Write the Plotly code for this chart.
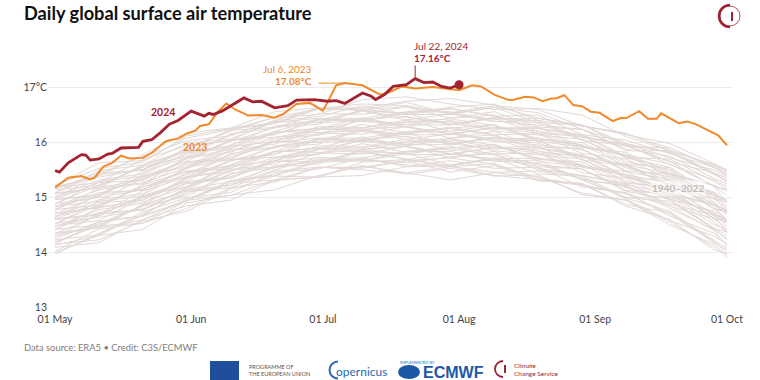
import plotly.graph_objects as go

# ---------------- data ----------------
YEAR = "2024"  # common plotting year for all seasons

GRAY_DATES = ["05-01", "05-11", "05-21", "05-31", "06-10", "06-20", "06-30", "07-10", "07-20",
              "07-30", "08-09", "08-19", "08-29", "09-08", "09-18", "09-28", "10-01"]

# 1940-2022 individual years (estimated from the spaghetti band)
GRAY_1940_2022 = [
    [14.00, 14.31, 14.42, 14.90, 15.04, 15.14, 15.40, 15.57, 15.45, 15.32, 15.45, 15.38, 15.08, 14.95, 14.55, 14.10, 13.92],
    [14.15, 14.23, 14.57, 14.75, 15.15, 15.39, 15.37, 15.40, 15.56, 15.57, 15.40, 15.33, 15.25, 14.84, 14.60, 14.05, 13.98],
    [13.97, 14.35, 14.67, 14.95, 15.04, 15.32, 15.55, 15.50, 15.45, 15.56, 15.62, 15.32, 15.22, 15.07, 14.70, 14.18, 14.05],
    [14.19, 14.49, 14.53, 14.94, 15.26, 15.31, 15.37, 15.64, 15.69, 15.56, 15.46, 15.48, 15.36, 14.97, 14.58, 14.30, 14.15],
    [14.13, 14.31, 14.70, 15.10, 15.18, 15.48, 15.55, 15.55, 15.67, 15.72, 15.60, 15.36, 15.23, 15.07, 14.85, 14.40, 14.12],
    [14.34, 14.45, 14.59, 14.97, 15.29, 15.54, 15.69, 15.69, 15.59, 15.59, 15.72, 15.62, 15.32, 14.99, 14.75, 14.22, 14.08],
    [14.25, 14.56, 14.67, 15.15, 15.29, 15.39, 15.65, 15.82, 15.70, 15.57, 15.70, 15.63, 15.33, 15.20, 14.80, 14.42, 14.25],
    [14.18, 14.53, 14.85, 15.13, 15.22, 15.50, 15.73, 15.68, 15.63, 15.74, 15.80, 15.50, 15.40, 15.25, 14.96, 14.45, 14.30],
    [14.42, 14.50, 14.84, 15.02, 15.42, 15.66, 15.64, 15.67, 15.83, 15.84, 15.67, 15.60, 15.52, 15.11, 14.97, 14.44, 14.37],
    [14.30, 14.48, 14.87, 15.27, 15.35, 15.65, 15.72, 15.72, 15.84, 15.89, 15.77, 15.53, 15.40, 15.24, 15.07, 14.67, 14.37],
    [14.43, 14.73, 14.77, 15.18, 15.50, 15.55, 15.61, 15.88, 15.93, 15.80, 15.70, 15.72, 15.60, 15.21, 14.88, 14.68, 14.58],
    [14.53, 14.64, 14.78, 15.16, 15.48, 15.73, 15.88, 15.88, 15.78, 15.78, 15.91, 15.81, 15.51, 15.18, 15.01, 14.51, 14.41],
    [14.34, 14.69, 15.01, 15.29, 15.38, 15.66, 15.89, 15.84, 15.79, 15.90, 15.96, 15.66, 15.56, 15.41, 15.12, 14.61, 14.59],
    [14.47, 14.78, 14.89, 15.37, 15.51, 15.61, 15.87, 16.04, 15.92, 15.79, 15.92, 15.85, 15.55, 15.42, 15.02, 14.72, 14.57],
    [14.60, 14.68, 15.02, 15.20, 15.60, 15.84, 15.82, 15.85, 16.01, 16.02, 15.85, 15.78, 15.70, 15.29, 15.15, 14.62, 14.55],
    [14.48, 14.66, 15.05, 15.45, 15.53, 15.83, 15.90, 15.90, 16.02, 16.07, 15.95, 15.71, 15.58, 15.42, 15.25, 14.85, 14.55],
    [14.61, 14.91, 14.95, 15.36, 15.68, 15.73, 15.79, 16.06, 16.11, 15.98, 15.88, 15.90, 15.78, 15.39, 15.06, 14.86, 14.76],
    [14.71, 14.82, 14.96, 15.34, 15.66, 15.91, 16.06, 16.06, 15.96, 15.96, 16.09, 15.99, 15.69, 15.36, 15.19, 14.69, 14.59],
    [14.52, 14.87, 15.19, 15.47, 15.56, 15.84, 16.07, 16.02, 15.97, 16.08, 16.14, 15.84, 15.74, 15.59, 15.30, 14.79, 14.77],
    [14.65, 14.96, 15.07, 15.55, 15.69, 15.79, 16.05, 16.22, 16.10, 15.97, 16.10, 16.03, 15.73, 15.60, 15.20, 14.90, 14.75],
    [14.78, 14.86, 15.20, 15.38, 15.78, 16.02, 16.00, 16.03, 16.19, 16.20, 16.03, 15.96, 15.88, 15.47, 15.33, 14.80, 14.73],
    [14.66, 14.84, 15.23, 15.63, 15.71, 16.01, 16.08, 16.08, 16.20, 16.25, 16.13, 15.89, 15.76, 15.60, 15.43, 15.03, 14.73],
    [14.79, 15.09, 15.13, 15.54, 15.86, 15.91, 15.97, 16.24, 16.29, 16.16, 16.06, 16.08, 15.96, 15.57, 15.24, 15.04, 14.94],
    [14.89, 15.00, 15.14, 15.52, 15.84, 16.09, 16.24, 16.24, 16.14, 16.14, 16.27, 16.17, 15.87, 15.54, 15.37, 14.87, 14.77],
    [14.70, 15.05, 15.37, 15.65, 15.74, 16.02, 16.25, 16.20, 16.15, 16.26, 16.32, 16.02, 15.92, 15.77, 15.48, 14.97, 14.95],
    [14.83, 15.14, 15.25, 15.73, 15.87, 15.97, 16.23, 16.40, 16.28, 16.15, 16.28, 16.21, 15.91, 15.78, 15.38, 15.08, 14.93],
    [14.96, 15.04, 15.38, 15.56, 15.96, 16.20, 16.18, 16.21, 16.37, 16.38, 16.21, 16.14, 16.06, 15.65, 15.51, 14.98, 14.91],
    [14.84, 15.02, 15.41, 15.81, 15.89, 16.19, 16.26, 16.26, 16.38, 16.43, 16.31, 16.07, 15.94, 15.78, 15.61, 15.21, 14.91],
    [14.97, 15.27, 15.31, 15.72, 16.04, 16.09, 16.15, 16.42, 16.47, 16.34, 16.24, 16.26, 16.14, 15.75, 15.42, 15.22, 15.12],
    [15.07, 15.18, 15.32, 15.70, 16.02, 16.27, 16.42, 16.42, 16.32, 16.32, 16.45, 16.35, 16.05, 15.72, 15.55, 15.05, 14.95],
    [14.88, 15.23, 15.55, 15.83, 15.92, 16.20, 16.43, 16.38, 16.33, 16.44, 16.50, 16.20, 16.10, 15.95, 15.66, 15.20, 15.15],
    [15.01, 15.32, 15.43, 15.91, 16.05, 16.15, 16.41, 16.58, 16.46, 16.33, 16.46, 16.39, 16.09, 15.96, 15.60, 15.32, 15.20],
    [15.14, 15.22, 15.56, 15.74, 16.14, 16.38, 16.36, 16.39, 16.55, 16.56, 16.39, 16.32, 16.24, 15.88, 15.75, 15.35, 15.25],
    [15.02, 15.20, 15.59, 15.99, 16.07, 16.37, 16.44, 16.44, 16.56, 16.61, 16.49, 16.25, 16.12, 15.96, 15.82, 15.45, 15.28],
    [15.15, 15.45, 15.49, 15.90, 16.22, 16.27, 16.33, 16.60, 16.65, 16.52, 16.42, 16.44, 16.32, 15.98, 15.72, 15.50, 15.38],
    [15.20, 15.37, 15.51, 15.89, 16.21, 16.46, 16.61, 16.61, 16.51, 16.51, 16.64, 16.54, 16.24, 15.98, 15.82, 15.42, 15.30],
    [15.08, 15.43, 15.75, 16.03, 16.12, 16.40, 16.63, 16.58, 16.53, 16.64, 16.70, 16.40, 16.30, 16.15, 15.90, 15.55, 15.45],
    [15.22, 15.53, 15.64, 16.12, 16.26, 16.36, 16.62, 16.70, 16.67, 16.54, 16.67, 16.60, 16.30, 16.17, 15.85, 15.58, 15.48],
    [15.18, 15.39, 15.78, 16.18, 16.26, 16.56, 16.63, 16.63, 16.75, 16.80, 16.68, 16.44, 16.31, 16.15, 15.98, 15.62, 15.50],
    [15.22, 15.63, 15.67, 16.08, 16.24, 16.45, 16.51, 16.78, 16.83, 16.70, 16.60, 16.62, 16.50, 16.11, 15.85, 15.60, 15.50],
    [14.09, 14.18, 14.60, 14.85, 14.95, 15.31, 15.38, 15.58, 15.42, 15.53, 15.39, 15.41, 15.05, 14.95, 14.50, 14.15, 13.95],
    [14.02, 14.43, 14.53, 14.80, 15.18, 15.28, 15.55, 15.53, 15.67, 15.46, 15.58, 15.30, 15.26, 14.87, 14.72, 14.20, 14.00],
    [14.23, 14.32, 14.74, 14.99, 15.09, 15.45, 15.52, 15.72, 15.56, 15.67, 15.53, 15.55, 15.19, 15.09, 14.66, 14.35, 14.15],
    [14.15, 14.56, 14.66, 14.93, 15.31, 15.41, 15.68, 15.66, 15.80, 15.59, 15.71, 15.43, 15.39, 15.00, 14.93, 14.43, 14.23],
    [14.36, 14.45, 14.87, 15.12, 15.22, 15.58, 15.65, 15.85, 15.69, 15.80, 15.66, 15.68, 15.32, 15.22, 14.84, 14.62, 14.44],
    [14.28, 14.69, 14.79, 15.06, 15.44, 15.54, 15.81, 15.79, 15.93, 15.72, 15.84, 15.56, 15.52, 15.13, 15.06, 14.56, 14.36],
    [14.49, 14.58, 15.00, 15.25, 15.35, 15.71, 15.78, 15.98, 15.82, 15.93, 15.79, 15.81, 15.45, 15.35, 14.97, 14.75, 14.57],
    [14.41, 14.82, 14.92, 15.19, 15.57, 15.67, 15.94, 15.92, 16.06, 15.85, 15.97, 15.69, 15.65, 15.26, 15.19, 14.69, 14.49],
    [14.61, 14.70, 15.12, 15.37, 15.47, 15.83, 15.90, 16.10, 15.94, 16.05, 15.91, 15.93, 15.57, 15.47, 15.09, 14.87, 14.69],
    [14.52, 14.93, 15.03, 15.30, 15.68, 15.78, 16.05, 16.03, 16.17, 15.96, 16.08, 15.80, 15.76, 15.37, 15.30, 14.80, 14.60],
    [14.72, 14.81, 15.23, 15.48, 15.58, 15.94, 16.01, 16.21, 16.05, 16.16, 16.02, 16.04, 15.68, 15.58, 15.20, 14.98, 14.80],
    [14.64, 15.05, 15.15, 15.42, 15.80, 15.90, 16.17, 16.15, 16.29, 16.08, 16.20, 15.92, 15.88, 15.49, 15.42, 14.92, 14.72],
    [14.84, 14.93, 15.35, 15.60, 15.70, 16.06, 16.13, 16.33, 16.17, 16.28, 16.14, 16.16, 15.80, 15.70, 15.32, 15.10, 14.92],
    [14.76, 15.17, 15.27, 15.54, 15.92, 16.02, 16.29, 16.27, 16.41, 16.20, 16.32, 16.04, 16.00, 15.61, 15.54, 15.04, 14.84],
    [14.96, 15.05, 15.47, 15.72, 15.82, 16.18, 16.25, 16.45, 16.29, 16.40, 16.26, 16.28, 15.92, 15.82, 15.44, 15.22, 15.04],
    [14.88, 15.29, 15.39, 15.66, 16.04, 16.14, 16.41, 16.39, 16.53, 16.32, 16.44, 16.16, 16.12, 15.73, 15.70, 15.30, 15.15],
    [15.08, 15.17, 15.59, 15.84, 15.94, 16.30, 16.37, 16.57, 16.41, 16.52, 16.38, 16.40, 16.04, 15.94, 15.65, 15.45, 15.30],
    [15.00, 15.41, 15.51, 15.78, 16.16, 16.26, 16.53, 16.51, 16.65, 16.44, 16.56, 16.28, 16.24, 15.85, 15.85, 15.45, 15.35],
    [15.18, 15.27, 15.69, 15.94, 16.04, 16.40, 16.47, 16.67, 16.51, 16.62, 16.48, 16.50, 16.14, 16.04, 15.80, 15.55, 15.42],
    [15.08, 15.49, 15.59, 15.86, 16.24, 16.34, 16.61, 16.59, 16.73, 16.52, 16.64, 16.36, 16.32, 15.93, 15.90, 15.55, 15.40],
]

DATES_2023 = ["05-01", "05-04", "05-07", "05-09", "05-10", "05-12", "05-14", "05-16", "05-18", "05-21",
              "05-23", "05-26", "05-27", "05-29", "05-31", "06-02", "06-03", "06-05", "06-07", "06-09",
              "06-11", "06-14", "06-17", "06-20", "06-22", "06-25", "06-28", "07-01", "07-02", "07-04",
              "07-06", "07-10", "07-14", "07-16", "07-19", "07-22", "07-26", "07-29", "08-01", "08-04",
              "08-06", "08-09", "08-10", "08-12", "08-13", "08-16", "08-18", "08-20", "08-22", "08-23",
              "08-25", "08-27", "08-29", "08-31", "09-02", "09-05", "09-07", "09-08", "09-11", "09-13",
              "09-15", "09-16", "09-20", "09-22", "09-24", "09-27", "09-29", "10-01"]
VALUES_2023 = [15.18, 15.36, 15.39, 15.33, 15.36, 15.56, 15.63, 15.76, 15.71, 15.72,
               15.81, 16.01, 16.04, 16.07, 16.16, 16.22, 16.30, 16.33, 16.55, 16.71,
               16.60, 16.49, 16.50, 16.45, 16.52, 16.70, 16.72, 16.58, 16.72, 17.04,
               17.08, 17.04, 16.87, 16.91, 17.02, 16.98, 17.01, 16.98, 16.95, 17.04,
               17.02, 16.87, 16.84, 16.78, 16.77, 16.83, 16.82, 16.75, 16.80, 16.80,
               16.86, 16.68, 16.66, 16.56, 16.54, 16.39, 16.45, 16.44, 16.57, 16.43,
               16.43, 16.53, 16.35, 16.38, 16.33, 16.21, 16.13, 15.95]

DATES_2024 = ["05-01", "05-02", "05-04", "05-07", "05-08", "05-09", "05-11", "05-13", "05-14", "05-16",
              "05-20", "05-21", "05-23", "05-25", "05-27", "05-29", "06-01", "06-04", "06-05", "06-06",
              "06-08", "06-10", "06-13", "06-15", "06-17", "06-20", "06-23", "06-25", "06-29", "07-02",
              "07-04", "07-06", "07-08", "07-10", "07-12", "07-13", "07-15", "07-17", "07-20", "07-22",
              "07-24", "07-26", "07-28", "07-30", "08-01"]
VALUES_2024 = [15.49, 15.46, 15.63, 15.78, 15.77, 15.68, 15.70, 15.79, 15.80, 15.90,
               15.91, 16.02, 16.05, 16.18, 16.33, 16.40, 16.57, 16.48, 16.53, 16.51,
               16.57, 16.66, 16.81, 16.74, 16.75, 16.63, 16.67, 16.77, 16.78, 16.75,
               16.76, 16.71, 16.81, 16.90, 16.84, 16.78, 16.87, 17.02, 17.05, 17.16,
               17.09, 17.10, 17.02, 16.99, 17.05]

Y_TICKS = [13, 14, 15, 16, 17]
Y_TICK_LABELS = ["13", "14", "15", "16", "17°C"]
X_TICKS = ["05-01", "06-01", "07-01", "08-01", "09-01", "10-01"]
X_TICK_LABELS = ["01 May", "01 Jun", "01 Jul", "01 Aug", "01 Sep", "01 Oct"]

PEAK_2023 = ("07-06", 17.08, "Jul 6, 2023", "17.08°C")
PEAK_2024 = ("07-22", 17.16, "Jul 22, 2024", "17.16°C")

# ---------------- styling ----------------
FONT = "Lato, 'Noto Sans', sans-serif"
C_GRAY = "#e2d8d6"
C_2023 = "#f08a2c"
C_2023_TXT = "#ee8a2e"
C_2024 = "#a3242f"
W, H = 760, 380
L, R, T, B = 48, 27, 60, 72  # plot area = x 48..733, y 60..308
ANN_SIZE = 10
TICK_SIZE = 10.5


def d(md):
    return f"{YEAR}-{md}"


def px(x):   # pixel -> paper x
    return (x - L) / (W - L - R)


def py(y):   # pixel -> paper y
    return (H - B - y) / (H - T - B)


fig = go.Figure()

for row in GRAY_1940_2022:
    fig.add_trace(go.Scatter(x=[d(s) for s in GRAY_DATES], y=row, mode="lines",
                             line=dict(color=C_GRAY, width=1), hoverinfo="skip", showlegend=False))

fig.add_trace(go.Scatter(x=[d(s) for s in DATES_2023], y=VALUES_2023, mode="lines",
                         line=dict(color=C_2023, width=2), showlegend=False))
fig.add_trace(go.Scatter(x=[d(s) for s in DATES_2024], y=VALUES_2024, mode="lines",
                         line=dict(color=C_2024, width=2.8), showlegend=False))
fig.add_trace(go.Scatter(x=[d(DATES_2024[-1])], y=[VALUES_2024[-1]], mode="markers",
                         marker=dict(color=C_2024, size=9), showlegend=False))

ann = []
shapes = []

# title
ann.append(dict(xref="paper", yref="paper", x=px(22), y=py(13), xanchor="left", yanchor="middle",
                text="<b>Daily global surface air temperature</b>", showarrow=False,
                font=dict(family=FONT, size=18.2, color="#111")))

# series labels
ann.append(dict(x="2024-05-25 14:00", y=16.56, text="<b>2024</b>", showarrow=False,
                font=dict(family=FONT, size=10.5, color=C_2024)))
ann.append(dict(x="2024-06-01 22:00", y=15.91, text="<b>2023</b>", showarrow=False,
                font=dict(family=FONT, size=10.5, color=C_2023)))
ann.append(dict(x="2024-09-19 18:00", y=15.18, text="<b>1940–2022</b>", showarrow=False,
                bgcolor="rgba(255,255,255,0.55)", borderpad=1,
                font=dict(family=FONT, size=10, color="#c3b9b7")))

# 2023 peak annotation
ann.append(dict(x="2024-06-29", xref="x", yref="paper", y=py(69), xanchor="right", yanchor="middle",
                text=PEAK_2023[2], showarrow=False, font=dict(family=FONT, size=ANN_SIZE, color=C_2023_TXT)))
ann.append(dict(x="2024-06-29", xref="x", yref="paper", y=py(81), xanchor="right", yanchor="middle",
                text=f"<b>{PEAK_2023[3]}</b>", showarrow=False,
                font=dict(family=FONT, size=ANN_SIZE, color=C_2023_TXT)))
shapes.append(dict(type="line", xref="x", yref="y", x0="2024-06-30", x1=d(PEAK_2023[0]),
                   y0=PEAK_2023[1], y1=PEAK_2023[1], line=dict(color=C_2023, width=1)))

# 2024 peak annotation
ann.append(dict(x="2024-07-21 07:00", xref="x", yref="paper", y=py(46), xanchor="left", yanchor="middle",
                text=PEAK_2024[2], showarrow=False, font=dict(family=FONT, size=ANN_SIZE, color=C_2024)))
ann.append(dict(x="2024-07-21 07:00", xref="x", yref="paper", y=py(57.5), xanchor="left", yanchor="middle",
                text=f"<b>{PEAK_2024[3]}</b>", showarrow=False,
                font=dict(family=FONT, size=ANN_SIZE, color=C_2024)))
shapes.append(dict(type="line", xref="x", yref="y", x0=d(PEAK_2024[0]), x1=d(PEAK_2024[0]),
                   y0=PEAK_2024[1] + 0.03, y1=17.4, line=dict(color=C_2024, width=1)))

# footer
ann.append(dict(xref="paper", yref="paper", x=px(22), y=py(347), xanchor="left", yanchor="middle",
                text="Data source: ERA5 • Credit: C3S/ECMWF", showarrow=False,
                font=dict(family=FONT, size=9.4, color="#7d7d7d")))

# logos (approximations)
shapes.append(dict(type="rect", xref="paper", yref="paper", x0=px(210), x1=px(239), y0=py(380), y1=py(361),
                   fillcolor="#1f4e9b", line=dict(width=0), layer="above"))
ann.append(dict(xref="paper", yref="paper", x=px(247), y=py(370), xanchor="left", yanchor="middle",
                text="PROGRAMME OF<br>THE EUROPEAN UNION", showarrow=False, align="left",
                font=dict(family=FONT, size=5.5, color="#555")))
k = 0.5523


def left_arc(cx, cy, r):
    c = k * r
    return (f"M {px(cx)} {py(cy - r)} C {px(cx - c)} {py(cy - r)} {px(cx - r)} {py(cy - c)} {px(cx - r)} {py(cy)} "
            f"C {px(cx - r)} {py(cy + c)} {px(cx - c)} {py(cy + r)} {px(cx)} {py(cy + r)}")


shapes.append(dict(type="path", xref="paper", yref="paper", path=left_arc(338, 370, 8.5),
                   line=dict(color="#2a6bb5", width=2)))
ann.append(dict(xref="paper", yref="paper", x=px(334), y=py(371), xanchor="left", yanchor="middle",
                text="opernicus", showarrow=False, font=dict(family=FONT, size=12, color="#2a6bb5")))
ann.append(dict(xref="paper", yref="paper", x=px(398), y=py(362), xanchor="left", yanchor="middle",
                text="IMPLEMENTED BY", showarrow=False, font=dict(family=FONT, size=4, color="#2a6bb5")))
shapes.append(dict(type="circle", xref="paper", yref="paper", x0=px(398), x1=px(420), y0=py(379), y1=py(365),
                   fillcolor="#1d58a6", line=dict(width=0)))
ann.append(dict(xref="paper", yref="paper", x=px(421), y=py(372), xanchor="left", yanchor="middle",
                text="<b>ECMWF</b>", showarrow=False,
                font=dict(family="Liberation Sans, Arial", size=16, color="#1d58a6")))
shapes.append(dict(type="path", xref="paper", yref="paper", path=left_arc(503, 369, 8),
                   line=dict(color="#9b2433", width=1.8)))
shapes.append(dict(type="line", xref="paper", yref="paper", x0=px(505), x1=px(505), y0=py(365), y1=py(373),
                   line=dict(color="#9b2433", width=2)))
ann.append(dict(xref="paper", yref="paper", x=px(512), y=py(369), xanchor="left", yanchor="middle",
                text="Climate<br>Change Service", showarrow=False, align="left",
                font=dict(family=FONT, size=6.5, color="#9b2433")))

# top-right logo
shapes.append(dict(type="path", xref="paper", yref="paper", path=left_arc(730, 16, 11),
                   line=dict(color="#9b2433", width=2.5)))
shapes.append(dict(type="circle", xref="paper", yref="paper", x0=px(720), x1=px(740), y0=py(26), y1=py(6),
                   line=dict(color="#9b2433", width=0.8)))
shapes.append(dict(type="line", xref="paper", yref="paper", x0=px(732), x1=px(732), y0=py(12), y1=py(21),
                   line=dict(color="#9b2433", width=2)))

fig.update_layout(
    width=W, height=H,
    margin=dict(l=L, r=R, t=T, b=B),
    paper_bgcolor="white", plot_bgcolor="white",
    showlegend=False,
    annotations=ann, shapes=shapes,
    font=dict(family=FONT),
    xaxis=dict(type="date", range=["2024-04-29 09:30", "2024-10-02 09:00"],
               tickvals=[d(s) for s in X_TICKS], ticktext=X_TICK_LABELS,
               showgrid=False, zeroline=False, showline=False, ticks="",
               ticklabelstandoff=3,
               tickfont=dict(family=FONT, size=TICK_SIZE, color="#444")),
    yaxis=dict(range=[12.99, 17.5], tickvals=Y_TICKS, ticktext=Y_TICK_LABELS,
               showgrid=True, gridcolor="#ececec", gridwidth=1, zeroline=False, showline=False,
               ticks="", tickfont=dict(family=FONT, size=TICK_SIZE, color="#444")),
)

# remove the browser's default 8px page margin so the figure sits at the window's top-left corner
fig.write_html("out.html", config={"displayModeBar": False},
               post_script="document.body.style.margin='0';")
